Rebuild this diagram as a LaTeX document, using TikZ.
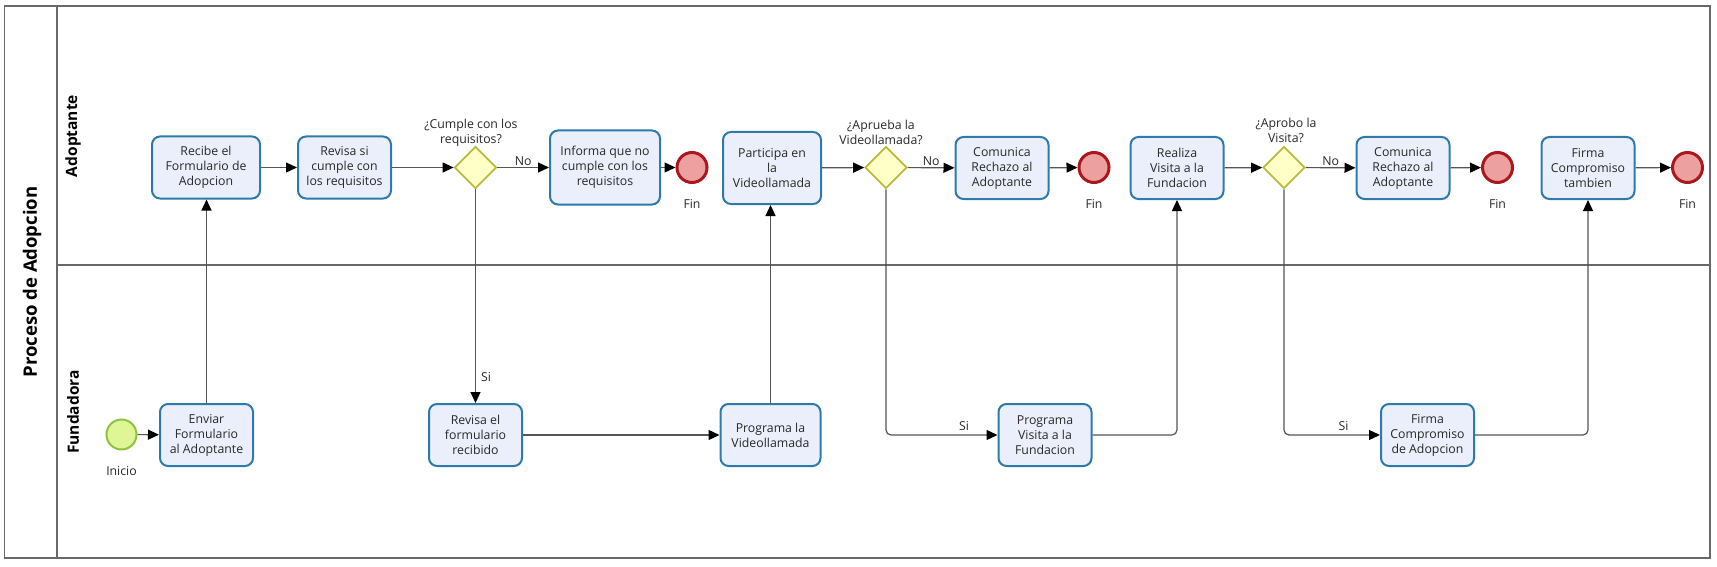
\documentclass[tikz,border=0pt]{standalone}
\usepackage{fontspec}
\setmainfont{Open Sans}
\usetikzlibrary{arrows.meta,shapes.geometric}
\definecolor{taskfill}{RGB}{235,239,252}
\definecolor{taskdraw}{RGB}{46,122,170}
\definecolor{gwfill}{RGB}{255,255,200}
\definecolor{gwdraw}{RGB}{186,186,60}
\definecolor{stfill}{RGB}{222,246,150}
\definecolor{stdraw}{RGB}{140,196,64}
\definecolor{endfill}{RGB}{236,160,160}
\definecolor{enddraw}{RGB}{170,24,30}
\definecolor{flowc}{RGB}{85,85,85}
\definecolor{framec}{RGB}{105,105,105}
\definecolor{txt}{RGB}{40,40,40}
\begin{document}
\begin{tikzpicture}[x=1pt,y=-1pt,
  every node/.style={font=\fontsize{12.3}{15}\selectfont, text=txt},
  task/.style={draw=taskdraw, fill=taskfill, line width=2pt, rounded corners=8pt,
    align=center, inner sep=2pt, minimum width=93pt, minimum height=62pt},
  gateway/.style={shape=diamond, draw=gwdraw, fill=gwfill, line width=1.8pt,
    minimum width=42pt, minimum height=42pt, inner sep=0pt},
  startev/.style={circle, draw=stdraw, fill=stfill, line width=2pt,
    minimum size=30pt, inner sep=0pt},
  endev/.style={circle, draw=enddraw, fill=endfill, line width=3pt,
    minimum size=30pt, inner sep=0pt},
  flow/.style={draw=flowc, line width=1.2pt,
    -{Triangle[length=11pt,width=10pt,color=black]}},
  lbl/.style={inner sep=1pt},
  framel/.style={draw=framec, line width=1.5pt},
  lanetitle/.style={rotate=90, font=\bfseries\fontsize{15.5}{18}\selectfont, text=black}
]
\useasboundingbox (0,0) rectangle (1717,567);
\fill[white] (0,0) rectangle (1717,567);

% pool and lanes
\draw[framel] (4.5,6) rectangle (1710,558);
\draw[framel] (57,6) -- (57,558);
\draw[framel] (57,265) -- (1710,265);
\node[lanetitle, font=\bfseries\fontsize{18.5}{21}\selectfont] (pool) at (32,282) {Proceso de Adopcion};
\node[lanetitle] (laneA) at (73,136) {Adoptante};
\node[lanetitle] (laneF) at (73,412) {Fundadora};

% Adoptante lane
\node[task, minimum width=108pt] (recibe) at (206,167.5) {Recibe el\\Formulario de\\Adopcion};
\node[task] (revisa) at (344.5,167.5) {Revisa si\\cumple con\\los requisitos};
\node[gateway] (d1) at (475.5,167.5) {};
\node[lbl, align=center] (d1l) at (471,132.5) {¿Cumple con los\\requisitos?};
\node[task, minimum width=110pt, minimum height=74pt] (informa) at (605,167.5) {Informa que no\\cumple con los\\requisitos};
\node[endev] (fin1) at (692,167.5) {};
\node[lbl] (fin1l) at (692,204) {Fin};
\node[task, minimum width=98pt, minimum height=72pt] (participa) at (772,168) {Participa en\\la\\Videollamada};
\node[gateway] (d2) at (886,167.5) {};
\node[lbl, align=center] (d2l) at (881,132.5) {¿Aprueba la\\Videollamada?};
\node[task] (comunica1) at (1002,168) {Comunica\\Rechazo al\\Adoptante};
\node[endev] (fin2) at (1094,167.5) {};
\node[lbl] (fin2l) at (1094,204) {Fin};
\node[task] (realiza) at (1177,168) {Realiza\\Visita a la\\Fundacion};
\node[gateway] (d3) at (1284,167.5) {};
\node[lbl, align=center] (d3l) at (1286,130) {¿Aprobo la\\Visita?};
\node[task] (comunica2) at (1403,168) {Comunica\\Rechazo al\\Adoptante};
\node[endev] (fin3) at (1497.5,167.5) {};
\node[lbl] (fin3l) at (1497.5,204) {Fin};
\node[task] (firmaT) at (1588,168) {Firma\\Compromiso\\tambien};
\node[endev] (fin4) at (1687.5,167.5) {};
\node[lbl] (fin4l) at (1687.5,204) {Fin};

% Fundadora lane
\node[startev] (inicio) at (121.5,434.5) {};
\node[lbl] (iniciol) at (121.5,471) {Inicio};
\node[task] (enviar) at (206.5,435) {Enviar\\Formulario\\al Adoptante};
\node[task] (revisaf) at (475.5,435) {Revisa el\\formulario\\recibido};
\node[task, minimum width=100pt] (progvideo) at (770.5,435) {Programa la\\Videollamada};
\node[task] (progvisita) at (1045,435) {Programa\\Visita a la\\Fundacion};
\node[task] (firmaA) at (1427.5,435) {Firma\\Compromiso\\de Adopcion};

% flows
\draw[flow] (inicio) -- (enviar);
\draw[flow] (enviar.north) -- (enviar.north |- recibe.south);
\draw[flow] (recibe) -- (revisa);
\draw[flow] (revisa) -- (d1);
\draw[flow] (d1) -- node[lbl, above, pos=0.5] {No} (informa);
\draw[flow] (informa) -- (fin1);
\draw[flow] (d1.south) -- node[lbl, right=4pt, pos=0.88] {Si} (revisaf.north);
\draw[flow] (revisaf) -- (progvideo);
\draw[flow] (progvideo.north) -- (progvideo.north |- participa.south);
\draw[flow] (participa) -- (d2);
\draw[flow] (d2) -- node[lbl, above, pos=0.5] {No} (comunica1);
\draw[flow] (comunica1) -- (fin2);
\draw[flow, rounded corners=5pt] (d2.south) |- node[lbl, above=3pt, pos=0.85] {Si} (progvisita.west);
\draw[flow, rounded corners=5pt] (progvisita.east) -| (realiza.south);
\draw[flow] (realiza) -- (d3);
\draw[flow] (d3) -- node[lbl, above, pos=0.5] {No} (comunica2);
\draw[flow] (comunica2) -- (fin3);
\draw[flow, rounded corners=5pt] (d3.south) |- node[lbl, above=3pt, pos=0.81] {Si} (firmaA.west);
\draw[flow, rounded corners=5pt] (firmaA.east) -| (firmaT.south);
\draw[flow] (firmaT) -- (fin4);
\end{tikzpicture}
\end{document}
